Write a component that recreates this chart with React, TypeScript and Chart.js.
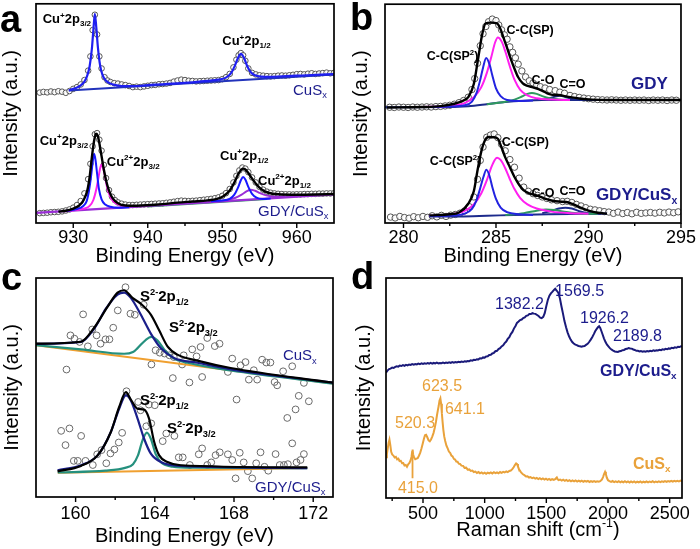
import React, { useEffect, useRef } from "react";
import { Chart, registerables } from "chart.js";
Chart.register(...registerables);

const FONT = "'Liberation Sans', Arial, Helvetica, sans-serif";
type P = [number, number];
type Part = [string, number];

// ================= Panel a : Cu 2p =================
const A_TICKS = [930, 940, 950, 960];
const A_MINOR = [935, 945, 955];
const A_CUSX_DATA: P[] = [[925.5,59.5],[926,59.8],[926.5,59.6],[927,60.0],[927.5,59.7],[928,60.1],[928.5,59.9],[929,59.4],[929.5,60.2],[930,61.2],[930.5,62.0],[931,63.2],[931.5,65.2],[932,69.5],[932.3,76],[932.6,88],[932.9,95.0],[933.2,86],[933.5,76],[933.8,70.5],[934.2,66.5],[934.6,65],[935,64.3],[935.5,63.8],[936,63.6],[936.5,63.2],[937,62.9],[937.5,62.5],[938,62.0],[938.5,62.2],[939,62.0],[939.5,62.3],[940,62.6],[940.5,62.9],[941,63.0],[941.5,63.3],[942,63.4],[942.5,63.6],[943,63.9],[943.5,64.5],[944,65.0],[944.5,65.4],[945,65.2],[945.5,64.9],[946,64.8],[946.5,64.6],[947,64.7],[947.5,64.8],[948,64.9],[948.5,65.0],[949,65.1],[949.5,65.2],[950,65.6],[950.5,66.5],[951,68.0],[951.5,71],[951.9,74.5],[952.2,76.5],[952.5,77.5],[952.8,76.5],[953.1,74],[953.5,70.5],[954,68.5],[954.5,67.8],[955,67.4],[955.5,67.2],[956,67.0],[956.5,66.9],[957,67.0],[957.5,67.2],[958,67.3],[958.5,67.2],[959,67.4],[959.5,67.6],[960,67.9],[960.5,68.0],[961,67.8],[961.5,68.1],[962,68.3],[962.5,68.0],[963,68.2],[963.5,68.4],[964,68.6],[964.5,68.3],[965,68.5]];
const A_CUSX_FIT: P[] = [[929.4,60.5],[930.0,61.2],[930.5,61.8],[931.0,62.8],[931.5,64.5],[931.9,67.5],[932.2,71.5],[932.5,79.5],[932.7,88.0],[932.9,95.4],[933.1,89.0],[933.3,80.5],[933.6,72.0],[933.9,67.8],[934.3,65.3],[934.8,63.9],[935.5,63.0],[936.5,62.5],[938,62.5],[940,62.9],[942,63.3],[944,63.7],[946,64.2],[948,64.8],[949.5,65.4],[950.5,66.3],[951.2,68.5],[951.7,71.8],[952.1,75.2],[952.5,77.2],[952.9,75.5],[953.3,72.0],[953.8,68.9],[954.4,67.4],[955.2,66.8],[956.5,66.7],[958,66.9],[960,67.2],[962,67.5],[965,67.9]];
const A_CUSX_BASE: P[] = [[929.4,60.5],[965,67.8]];
const A_GC_DATA: P[] = [[925.5,4.5],[926,4.6],[926.5,4.7],[927,4.9],[927.5,5.0],[928,5.1],[928.5,5.3],[929,5.7],[929.5,6.2],[930,7.0],[930.5,8.2],[931,10.0],[931.5,13.5],[932,20],[932.3,27],[932.6,35],[932.9,40.5],[933.2,41],[933.5,38],[933.8,33],[934.1,26.5],[934.4,20.5],[934.8,15],[935.2,12],[935.6,10.4],[936,9.4],[936.5,8.8],[937,8.4],[937.5,8.2],[938,8.2],[938.5,8.3],[939,8.4],[939.5,8.5],[940,8.6],[940.5,8.7],[941,8.8],[941.5,8.9],[942,9.0],[942.5,9.2],[943,9.4],[943.5,9.7],[944,10.0],[944.5,10.2],[945,10.1],[945.5,10.0],[946,10.1],[946.5,10.2],[947,10.4],[947.5,10.6],[948,10.8],[948.5,11.0],[949,11.3],[949.5,11.7],[950,12.4],[950.5,13.6],[951,15.5],[951.5,18.5],[951.9,21.5],[952.3,24],[952.7,25.3],[953.1,24.8],[953.5,23.2],[954,20.8],[954.5,18.5],[955,16.5],[955.5,15.2],[956,14.3],[956.5,13.8],[957,13.5],[957.5,13.3],[958,13.2],[958.5,13.1],[959,13.1],[959.5,13.0],[960,13.1],[960.5,13.1],[961,13.2],[961.5,13.2],[962,13.3],[962.5,13.3],[963,13.4],[963.5,13.4],[964,13.5],[964.5,13.5],[965,13.6]];
const A_GC_ENV: P[] = [[928.0,5.2],[929.0,5.6],[930.0,6.6],[930.8,8.0],[931.4,10.5],[931.9,15.0],[932.2,21.0],[932.5,30.0],[932.8,37.5],[933.05,40.7],[933.3,39.8],[933.55,35.5],[933.8,30.5],[934.1,24.5],[934.4,19.5],[934.8,14.8],[935.3,11.2],[936.0,9.0],[937.0,8.0],[938.5,7.9],[940,8.1],[942,8.6],[944,9.3],[946,9.8],[948,10.3],[949.3,11.0],[950.2,12.3],[951.0,14.8],[951.6,18.3],[952.1,22.0],[952.5,24.2],[952.8,24.8],[953.1,24.4],[953.5,22.8],[954.0,20.3],[954.6,17.6],[955.3,15.3],[956.2,13.8],[957.5,13.1],[960,12.9],[962.5,13.0],[965,13.2]];
const A_GC_CU1_32: P[] = [[929.0,5.5],[930.5,6.4],[931.3,7.6],[931.8,10.0],[932.1,14.5],[932.4,21.5],[932.6,27.5],[932.8,31.6],[933.0,28.5],[933.2,22.5],[933.45,15.5],[933.8,10.8],[934.3,8.4],[935,7.4],[936,7.0],[937.5,7.2]];
const A_GC_CU2_32: P[] = [[929.0,5.4],[930.5,6.0],[931.5,6.6],[932.2,7.8],[932.7,10.5],[933.1,15.5],[933.4,21.0],[933.6,24.8],[933.8,26.7],[934.0,25.2],[934.25,21.5],[934.5,17.0],[934.9,12.5],[935.4,9.8],[936.2,8.3],[937.5,7.6]];
const A_GC_CU1_12: P[] = [[948.5,9.9],[950,10.3],[951,11.0],[951.6,12.8],[952.1,16.0],[952.5,19.5],[952.8,21.0],[953.1,19.8],[953.5,16.5],[954.0,13.3],[954.6,11.6],[955.4,11.0],[956.5,11.2]];
const A_GC_CU2_12: P[] = [[947.5,9.3],[949,9.7],[950.5,10.4],[951.7,11.4],[952.6,12.9],[953.3,14.5],[953.8,15.2],[954.4,14.7],[955.1,13.6],[955.9,12.6],[957,12.0],[958.5,12.1]];
const A_GC_BASE: P[] = [[925,4.6],[965,13.1]];
const A_GC_GREEN: P[] = [[940,7.5],[956,11.0]];
const A_LABELS = [
  { x: 925.9, y: 93.2, k: "peak", t: [["Cu",0],["+",1],["2p",0],["3/2",2]] },
  { x: 950.0, y: 83.2, k: "peak", t: [["Cu",0],["+",1],["2p",0],["1/2",2]] },
  { x: 959.5, y: 60.9, k: "sample", t: [["CuS",0],["x",2]] },
  { x: 925.5, y: 37.7, k: "peak", t: [["Cu",0],["+",1],["2p",0],["3/2",2]] },
  { x: 934.5, y: 28.2, k: "peak", t: [["Cu",0],["2+",1],["2p",0],["3/2",2]] },
  { x: 949.7, y: 30.9, k: "peak", t: [["Cu",0],["+",1],["2p",0],["1/2",2]] },
  { x: 954.8, y: 19.5, k: "peak", t: [["Cu",0],["2+",1],["2p",0],["1/2",2]] },
  { x: 954.8, y: 5.5, k: "sample", t: [["GDY/CuS",0],["x",2]] },
];

// ================= Panel b : C 1s =================
const B_TICKS = [280, 285, 290, 295];
const B_MINOR = [282.5, 287.5, 292.5];
const B_GDY_DATA: P[] = [[279.25,52.9],[279.5,52.8],[279.75,53.0],[280,52.9],[280.25,52.8],[280.5,53.0],[280.75,52.9],[281,53.0],[281.25,53.1],[281.5,53.0],[281.75,53.2],[282,53.3],[282.25,53.5],[282.5,53.8],[282.75,54.3],[283,55.0],[283.25,56.0],[283.5,57.5],[283.7,61.0],[283.85,66.0],[284.0,73.0],[284.15,81.0],[284.3,86.5],[284.45,89.8],[284.6,92.0],[284.8,93.2],[285.0,92.5],[285.15,90.5],[285.3,88.3],[285.45,86.0],[285.6,84.0],[285.75,80.5],[285.9,78.0],[286.05,75.5],[286.2,72.6],[286.4,69.5],[286.6,66.8],[286.8,65.0],[287.0,64.0],[287.2,63.0],[287.4,62.3],[287.65,61.7],[287.9,61.0],[288.2,60.5],[288.45,59.8],[288.7,59.3],[289.0,58.3],[289.25,57.8],[289.5,57.4],[289.75,57.1],[290.0,56.8],[290.25,56.6],[290.5,56.4],[290.75,56.3],[291.0,56.2],[291.25,56.3],[291.5,56.2],[291.75,56.1],[292,56.2],[292.25,56.1],[292.5,56.2],[292.75,56.1],[293,56.2],[293.25,56.0],[293.5,56.2],[293.75,56.1],[294,56.2],[294.25,56.0],[294.5,56.2],[294.75,56.1]];
const B_GDY_ENV: P[] = [[279.1,52.8],[281,53.0],[282,53.4],[282.75,54.5],[283.25,56.0],[283.5,57.5],[283.8,63.5],[284.05,76.0],[284.25,86.0],[284.43,91.2],[284.7,91.6],[285.06,91.2],[285.25,88.5],[285.4,84.8],[285.6,80.0],[285.77,75.7],[286.0,70.5],[286.2,66.6],[286.45,63.8],[286.67,62.8],[287.0,62.0],[287.3,61.2],[287.6,60.0],[287.84,59.0],[288.1,58.5],[288.4,58.5],[288.7,58.0],[289.1,57.4],[289.6,56.8],[290.2,56.4],[291,56.2],[295,56.2]];
const B_GDY_SP2: P[] = [[281,53.0],[282.5,53.2],[283.3,53.8],[283.7,55.5],[283.95,59.5],[284.15,65.5],[284.3,71.0],[284.47,75.4],[284.65,72.5],[284.8,67.5],[285.0,61.5],[285.25,58.0],[285.6,56.2],[286.2,55.8],[287,56.0]];
const B_GDY_SP: P[] = [[281,53.0],[282.5,53.5],[283.3,54.8],[283.8,57.5],[284.2,62.0],[284.5,68.5],[284.75,76.0],[284.95,82.5],[285.1,84.8],[285.3,83.0],[285.5,78.5],[285.75,71.5],[286.0,65.5],[286.3,61.0],[286.7,58.3],[287.2,57.0],[288,56.4],[289,56.2]];
const B_GDY_CO: P[] = [[284.5,54.3],[285.5,55.4],[286.0,56.4],[286.4,57.8],[286.7,59.0],[286.94,59.4],[287.2,59.0],[287.5,58.0],[287.9,57.0],[288.4,56.5],[289,56.2]];
const B_GDY_CDO: P[] = [[287.2,56.2],[287.7,56.6],[288.1,57.5],[288.46,58.2],[288.8,57.5],[289.2,56.6],[289.7,56.2]];
const B_GDY_BASE: P[] = [[279,52.9],[282.5,53.0],[283.5,53.4],[284.5,54.3],[285.5,55.3],[286.5,55.9],[287.5,56.2],[295,56.2]];
const B_GC_DATA: P[] = [[279.3,2.7],[279.55,2.3],[279.8,3.0],[280.05,2.5],[280.3,2.2],[280.55,2.9],[280.8,2.4],[281.05,3.0],[281.3,2.6],[281.55,3.3],[281.8,2.8],[282.05,3.5],[282.3,3.0],[282.55,3.6],[282.8,3.9],[283.05,4.5],[283.3,5.5],[283.55,7.5],[283.8,11.9],[284.0,20.0],[284.15,28.6],[284.3,34.7],[284.5,39.2],[284.7,40.2],[284.9,40.7],[285.1,39.0],[285.3,36.0],[285.5,33.0],[285.75,29.0],[286.0,25.5],[286.25,20.5],[286.5,16.4],[286.75,14.5],[287.0,13.4],[287.25,12.6],[287.5,11.9],[287.75,11.2],[288.0,10.6],[288.3,10.2],[288.6,9.8],[288.85,9.9],[289.1,9.4],[289.35,8.5],[289.6,7.8],[289.85,7.0],[290.1,6.3],[290.35,6.0],[290.6,5.6],[290.85,5.2],[291.1,5.0],[291.35,4.4],[291.6,5.0],[291.85,4.3],[292.1,4.8],[292.35,4.2],[292.6,4.9],[292.85,4.4],[293.1,4.6],[293.35,4.8],[293.6,4.5],[293.85,4.9],[294.1,4.6],[294.35,5.0],[294.6,4.7],[294.85,5.1]];
const B_GC_ENV: P[] = [[281.4,3.5],[282.5,4.0],[283.0,4.8],[283.5,8.8],[283.8,14.5],[284.0,24.0],[284.2,32.5],[284.4,37.7],[284.6,39.3],[284.85,39.2],[285.1,38.5],[285.3,34.5],[285.5,30.0],[285.75,25.5],[286.0,21.0],[286.25,17.5],[286.5,14.9],[286.85,13.4],[287.2,12.6],[287.6,11.3],[288.0,10.3],[288.4,9.8],[288.8,9.6],[289.15,8.6],[289.5,7.3],[290.0,5.7],[290.5,4.7],[291.0,4.3]];
const B_GC_SP2: P[] = [[281.4,3.2],[282.5,3.4],[283.3,4.3],[283.7,6.5],[283.95,10.5],[284.15,16.0],[284.32,21.0],[284.48,24.3],[284.65,21.5],[284.8,16.5],[285.0,11.0],[285.25,7.0],[285.6,5.0],[286.2,4.0],[287,3.7]];
const B_GC_SP: P[] = [[281.4,3.3],[282.5,3.9],[283.3,5.5],[283.8,8.5],[284.2,13.5],[284.5,19.5],[284.75,25.5],[284.95,29.0],[285.06,29.8],[285.25,28.8],[285.5,25.0],[285.75,20.0],[286.0,15.5],[286.3,11.5],[286.7,8.5],[287.2,6.6],[288,5.2],[289,4.5],[290,4.2]];
const B_GC_CO: P[] = [[285.5,3.6],[286.5,4.5],[287.2,5.6],[287.7,6.2],[288.2,5.9],[288.8,5.0],[289.5,4.3],[290.5,4.2]];
const B_GC_CDO: P[] = [[287.5,4.5],[288.0,5.6],[288.4,6.6],[288.75,7.0],[289.1,6.6],[289.5,5.4],[290.0,4.5],[290.7,4.2]];
const B_GC_BASE: P[] = [[281.4,3.0],[283,3.0],[284.5,3.3],[286,3.7],[288,4.0],[291,4.3]];
const B_LABELS = [
  { x: 285.57, y: 88.6, k: "peak", t: [["C-C(SP)",0]] },
  { x: 281.26, y: 76.4, k: "peak", t: [["C-C(SP",0],["2",1],[")",0]] },
  { x: 286.92, y: 65.5, k: "peak", t: [["C-O",0]] },
  { x: 288.43, y: 63.6, k: "peak", t: [["C=O",0]] },
  { x: 292.3, y: 64.1, k: "sample", t: [["GDY",0]] },
  { x: 285.31, y: 37.3, k: "peak", t: [["C-C(SP)",0]] },
  { x: 281.42, y: 28.6, k: "peak", t: [["C-C(SP",0],["2",1],[")",0]] },
  { x: 286.92, y: 14.1, k: "peak", t: [["C-O",0]] },
  { x: 288.43, y: 15.0, k: "peak", t: [["C=O",0]] },
  { x: 290.4, y: 13.2, k: "sample", t: [["GDY/CuS",0],["x",2]] },
];

// ================= Panel c : S 2p =================
const C_TICKS = [160, 164, 168, 172];
const C_MINOR = [162, 166, 170];
const C_CUSX_DATA: P[] = [[162.52,95.8],[160.38,83.4],[162.13,85.2],[162.77,83.7],[162.99,83.2],[163.44,87.8],[160.84,76.5],[159.74,73.8],[159.94,72.3],[160.20,70.8],[160.62,68.8],[161.06,73.8],[161.26,70.0],[161.51,72.0],[161.71,72.0],[161.90,77.3],[159.54,58.2],[163.83,60.5],[164.04,67.0],[164.25,65.9],[164.49,65.5],[164.74,64.7],[164.96,63.9],[164.91,54.3],[165.38,60.5],[165.46,64.7],[165.75,52.3],[165.89,67.4],[166.11,64.2],[166.31,68.5],[166.39,54.8],[166.65,72.6],[167.03,68.9],[167.27,70.0],[167.69,57.1],[167.91,63.2],[168.33,60.1],[168.58,61.6],[168.75,53.6],[169.17,53.6],[169.0,57.9],[169.42,62.7],[169.63,61.4],[169.84,61.4],[170.05,52.5],[170.18,51.0],[170.48,57.4],[170.94,59.7],[171.27,46.2],[171.53,52.1],[171.78,43.7]];
const C_CUSX_ENV: P[] = [[158,70],[160.27,70.9],[160.94,77.3],[161.61,86.8],[162.12,93.3],[162.45,94.4],[162.87,90.9],[163.29,88.3],[163.8,83.3],[164.22,76.1],[164.64,68.8],[165.14,65],[166.15,62.3],[167.83,58.9],[173,52.2]];
const C_CUSX_P12: P[] = [[158,69.9],[160.27,70.8],[160.94,76.9],[161.53,86],[162.12,92.4],[162.45,93.3],[162.79,90.9],[163.29,83.3],[163.8,74.6],[164.3,68],[164.97,63.5],[166.15,61.3],[167.83,58.3],[173,52.2]];
const C_CUSX_P32: P[] = [[158,69.3],[160.27,67.4],[162.45,65.4],[162.9,66.2],[163.13,68],[163.55,71.8],[163.83,73.1],[164.13,71.5],[164.47,67.4],[164.7,65.2],[164.97,63.2],[165.65,61.3],[167.83,57.8],[173,51.8]];
const C_CUSX_BASE: P[] = [[158,69.3],[173,51.8]];
const C_GC_DATA: P[] = [[159.27,30.2],[159.69,31.3],[159.49,23.7],[160.28,27.9],[159.91,16.5],[160.11,16.5],[160.50,16.5],[160.87,14.6],[161.09,19.5],[161.31,21.4],[161.55,15.4],[161.76,19.9],[161.96,21.7],[162.18,24.9],[162.35,29.3],[162.57,48.3],[163.16,43.4],[163.28,39.6],[163.70,42.2],[164.0,41.9],[163.57,32.3],[163.82,33.6],[164.40,25.5],[164.58,29.0],[164.99,27.9],[165.21,18.1],[165.41,18.1],[165.77,14.6],[166.22,19.5],[166.39,22.2],[166.65,14.6],[166.85,15.8],[167.07,19.1],[167.28,20.4],[167.69,19.5],[167.91,16.9],[168.08,8.5],[168.13,44.5],[168.29,20.2],[168.49,15.8],[168.70,11.8],[168.92,8.5],[169.12,15.4],[169.34,20.4],[169.54,13.8],[169.73,12.0],[170.10,19.6],[170.31,14.6],[170.52,14.6],[170.72,15.0],[170.69,36.1],[170.94,24.5],[171.11,40.0],[171.16,15.8],[171.36,16.9],[171.53,19.6]];
const C_GC_ENV: P[] = [[159.09,11.7],[160.27,14.2],[161.11,19],[161.78,29.7],[162.2,41.1],[162.54,47.9],[162.79,44.5],[163.13,40.3],[163.46,39.9],[163.71,35.8],[163.97,25.1],[164.22,19],[164.64,16],[165.31,14.5],[171.7,13.5]];
const C_GC_P12: P[] = [[159.09,12.2],[160.27,14.5],[161.11,19],[161.78,29.7],[162.2,40.3],[162.54,46.4],[162.79,44.1],[163.13,35.8],[163.46,26.6],[163.8,19.8],[164.3,16],[165.31,14.2],[171.7,13.2]];
const C_GC_P32: P[] = [[159.1,11.2],[161.5,12.0],[162.5,13.3],[162.9,15.0],[163.15,19.0],[163.38,25.9],[163.6,29.4],[163.8,26.6],[164.05,19.5],[164.35,15.5],[164.9,13.9],[166,13.4],[171.7,13.2]];
const C_GC_BASE: P[] = [[159.1,11.1],[171.7,13.2]];
const C_LABELS = [
  { x: 163.25, y: 91.8, k: "peak", t: [["S",0],["2-",1],["2p",0],["1/2",2]] },
  { x: 164.72, y: 77.6, k: "peak", t: [["S",0],["2-",1],["2p",0],["3/2",2]] },
  { x: 170.47, y: 64.8, k: "sample", t: [["CuS",0],["x",2]] },
  { x: 163.25, y: 44.3, k: "peak", t: [["S",0],["2-",1],["2p",0],["1/2",2]] },
  { x: 164.62, y: 31.5, k: "peak", t: [["S",0],["2-",1],["2p",0],["3/2",2]] },
  { x: 169.06, y: 4.6, k: "sample", t: [["GDY/CuS",0],["x",2]] },
];

// ================= Panel d : Raman =================
const D_TICKS = [500, 1000, 1500, 2000, 2500];
const D_MINOR = [250, 750, 1250, 1750, 2250];
const D_GDY: P[] = [[200,57.0],[212,57.9],[225,58.6],[237,58.8],[250,59.3],[262,59.1],[275,59.6],[287,59.9],[300,59.7],[312,60.2],[325,60.0],[337,60.4],[350,60.1],[362,60.5],[375,60.3],[387,60.7],[400,60.5],[412,60.9],[425,60.6],[437,60.9],[450,60.7],[462,61.1],[475,60.8],[487,61.2],[500,60.9],[512,61.2],[525,61.0],[537,61.3],[550,61.1],[562,61.4],[575,61.1],[587,61.4],[600,61.2],[612,61.5],[625,61.2],[637,61.4],[650,61.3],[662,61.6],[675,61.3],[687,61.6],[700,61.4],[712,61.7],[725,61.4],[737,61.8],[750,61.5],[762,61.8],[775,61.6],[787,61.9],[800,61.7],[812,62.0],[825,61.8],[837,62.1],[850,62.0],[862,62.3],[875,62.2],[887,62.6],[900,62.4],[912,62.8],[925,62.7],[937,63.1],[950,63.0],[962,63.5],[975,63.4],[987,63.9],[1000,63.8],[1012,64.3],[1025,64.4],[1037,65.0],[1050,65.1],[1062,65.7],[1075,66.0],[1087,66.7],[1100,66.9],[1112,67.7],[1125,68.1],[1137,68.9],[1150,69.4],[1162,70.4],[1175,71.1],[1187,72.3],[1200,73.1],[1212,74.5],[1225,75.5],[1237,77.0],[1250,78.2],[1262,79.6],[1275,80.2],[1287,80.9],[1300,81.1],[1312,81.8],[1325,82.1],[1337,82.8],[1350,83.0],[1362,83.6],[1375,83.6],[1387,84.0],[1400,83.8],[1412,83.7],[1425,83.2],[1437,82.7],[1450,82.0],[1462,81.8],[1475,82.3],[1487,84.0],[1500,87.3],[1512,90.0],[1525,92.0],[1537,93.0],[1550,93.8],[1562,94.6],[1572,95.1],[1585,94.2],[1597,93.3],[1610,90.8],[1622,87.3],[1635,83.8],[1647,80.4],[1660,77.6],[1672,75.3],[1685,73.4],[1697,72.0],[1710,70.9],[1722,70.2],[1735,69.7],[1747,69.5],[1760,69.1],[1772,69.0],[1785,68.8],[1797,69.0],[1810,69.1],[1822,69.6],[1835,70.1],[1847,70.9],[1860,72.0],[1872,73.1],[1885,74.5],[1897,75.9],[1910,77.0],[1920,77.7],[1928,78.1],[1937,77.3],[1947,75.8],[1957,74.2],[1967,72.6],[1980,70.9],[1992,69.7],[2005,68.8],[2017,68.0],[2030,67.4],[2042,67.0],[2055,66.6],[2067,66.5],[2080,66.4],[2092,66.7],[2105,66.8],[2117,67.2],[2130,67.3],[2142,67.7],[2155,67.8],[2167,68.2],[2180,68.0],[2192,67.9],[2205,67.5],[2217,67.3],[2230,66.9],[2242,66.9],[2255,66.6],[2267,66.8],[2280,66.5],[2292,66.7],[2305,66.5],[2317,66.8],[2330,66.6],[2342,66.9],[2355,66.7],[2367,67.1],[2380,66.9],[2392,67.2],[2405,67.1],[2417,67.4],[2430,67.2],[2442,67.6],[2455,67.4],[2467,67.8],[2480,67.6],[2492,68.0],[2505,67.9],[2517,68.3],[2530,68.1],[2542,68.5],[2555,68.3],[2567,68.7],[2580,68.6],[2592,69.0],[2600,68.9]];
const D_CUSX: P[] = [[200,18.5],[207,20.0],[214,22.5],[221,25.0],[228,26.5],[235,24.0],[242,21.0],[250,19.8],[260,19.3],[270,18.4],[280,18.7],[290,17.6],[300,17.9],[310,16.8],[320,16.9],[330,15.8],[340,15.9],[350,14.8],[360,15.0],[370,14.2],[380,15.3],[390,15.9],[400,17.2],[407,18.8],[412,21.0],[416,22.0],[420,19.8],[428,18.4],[437,17.6],[447,17.9],[457,18.1],[467,19.2],[477,20.5],[487,22.4],[497,24.6],[507,26.8],[516,28.5],[525,28.7],[535,27.6],[545,26.2],[555,25.8],[565,26.6],[575,27.9],[585,29.5],[595,31.8],[605,34.6],[613,37.5],[620,39.7],[627,41.8],[634,44.3],[641,45.3],[647,42.8],[653,38.5],[659,34.5],[665,31.0],[672,28.0],[680,25.9],[690,23.8],[700,22.6],[710,21.1],[720,20.5],[730,19.3],[740,18.9],[750,17.8],[760,17.5],[770,16.6],[780,16.5],[790,15.6],[800,15.5],[812,14.7],[825,14.6],[837,13.7],[850,13.8],[862,12.9],[875,13.0],[887,12.3],[900,12.5],[912,11.8],[925,12.0],[937,11.4],[950,11.8],[962,11.2],[975,11.6],[987,11.1],[1000,11.5],[1012,11.0],[1025,11.5],[1037,11.2],[1050,11.6],[1062,11.1],[1075,11.7],[1087,11.3],[1100,11.6],[1112,11.2],[1125,11.8],[1137,11.4],[1150,11.9],[1162,11.6],[1175,12.1],[1187,11.8],[1200,12.3],[1212,12.5],[1224,13.1],[1235,14.0],[1245,15.0],[1255,15.7],[1263,15.4],[1270,14.3],[1278,13.2],[1287,12.3],[1297,11.5],[1310,10.8],[1322,10.4],[1335,9.8],[1347,9.9],[1360,9.3],[1372,9.5],[1385,9.0],[1397,9.3],[1410,8.8],[1422,9.1],[1435,8.6],[1447,9.0],[1460,8.5],[1472,8.9],[1485,8.4],[1497,8.8],[1510,8.3],[1522,8.7],[1535,8.2],[1547,8.6],[1560,8.2],[1572,8.6],[1585,9.3],[1592,8.5],[1600,8.1],[1612,8.4],[1625,7.9],[1637,8.3],[1650,7.8],[1662,8.2],[1675,7.7],[1687,8.1],[1700,7.6],[1712,8.0],[1725,7.6],[1737,8.0],[1750,7.5],[1762,7.9],[1775,7.5],[1787,7.9],[1800,7.4],[1812,7.8],[1825,7.4],[1837,7.8],[1850,7.3],[1862,7.7],[1875,7.3],[1887,7.7],[1900,7.3],[1912,7.6],[1925,7.4],[1937,7.7],[1950,8.3],[1960,9.5],[1968,10.9],[1976,11.9],[1983,10.8],[1990,9.3],[2000,8.1],[2012,7.7],[2025,7.3],[2037,7.7],[2050,7.2],[2062,7.6],[2075,7.2],[2087,7.6],[2100,7.1],[2112,7.5],[2125,7.1],[2137,7.6],[2150,7.1],[2162,7.5],[2175,7.0],[2187,7.5],[2200,7.1],[2212,7.5],[2225,7.0],[2237,7.4],[2250,7.1],[2262,7.5],[2275,7.0],[2287,7.4],[2300,7.1],[2312,7.5],[2325,7.1],[2337,7.5],[2350,7.2],[2362,7.6],[2375,7.1],[2387,7.5],[2400,7.2],[2412,7.6],[2425,7.2],[2437,7.6],[2450,7.3],[2462,7.7],[2475,7.3],[2487,7.7],[2500,7.4],[2512,7.8],[2525,7.4],[2537,7.8],[2550,7.5],[2562,7.8],[2575,7.5],[2587,7.9],[2600,7.6]];
const D_MARK_415: P[] = [[415,19.5],[415,9.0]];
const D_LABELS = [
  { x: 1084, y: 88.6, k: "navy", t: [["1382.2",0]] },
  { x: 1571, y: 94.5, k: "navy", t: [["1569.5",0]] },
  { x: 1773, y: 82.3, k: "navy", t: [["1926.2",0]] },
  { x: 2041, y: 74.1, k: "navy", t: [["2189.8",0]] },
  { x: 1935, y: 58.2, k: "navyB", t: [["GDY/CuS",0],["x",2]] },
  { x: 492, y: 51.4, k: "orange", t: [["623.5",0]] },
  { x: 678, y: 40.9, k: "orange", t: [["641.1",0]] },
  { x: 273, y: 34.2, k: "orange", t: [["520.3",0]] },
  { x: 297, y: 4.9, k: "orange", t: [["415.0",0]] },
  { x: 2203, y: 15.8, k: "orangeB", t: [["CuS",0],["x",2]] },
];

// ================= helpers =================
const xy = (a: P[]) => a.map(([x, y]) => ({ x, y }));
function line(data: P[], color: string, width = 2, smooth = true) {
  return {
    data: xy(data), showLine: true, borderColor: color, backgroundColor: color,
    borderWidth: width, pointRadius: 0, pointHoverRadius: 0, fill: false,
    cubicInterpolationMode: smooth ? "monotone" : "default", tension: 0,
  };
}
function dots(data: P[], r: number, stroke: string, fill: string) {
  return {
    data: xy(data), showLine: false, pointRadius: r, pointHoverRadius: r,
    pointBorderWidth: 1, pointBorderColor: stroke, pointBackgroundColor: fill,
    borderColor: stroke, backgroundColor: fill,
  };
}

function drawRich(ctx: any, parts: Part[], x: number, y: number, size: number, weight: string, color: string, align = "left") {
  const small = size * 0.62;
  const fN = `${weight} ${size}px ${FONT}`;
  const fS = `${weight} ${small}px ${FONT}`;
  let w = 0;
  for (const [t, k] of parts) { ctx.font = k ? fS : fN; w += ctx.measureText(t).width; }
  let cx = align === "center" ? x - w / 2 : x;
  const base = y + size * 0.35;
  ctx.fillStyle = color;
  ctx.textAlign = "left";
  ctx.textBaseline = "alphabetic";
  for (const [t, k] of parts) {
    ctx.font = k ? fS : fN;
    const dy = k === 1 ? -size * 0.42 : k === 2 ? size * 0.22 : 0;
    ctx.fillText(t, cx, base + dy);
    cx += ctx.measureText(t).width;
  }
}

function decor(p: any) {
  return {
    id: "decor",
    afterDatasetsDraw(chart: any) {
      const { ctx, chartArea: ca, scales } = chart;
      const xs = scales.x, ys = scales.y;
      ctx.save();
      ctx.strokeStyle = "#000";
      ctx.lineWidth = 1.7;
      ctx.strokeRect(ca.left, ca.top, ca.right - ca.left, ca.bottom - ca.top);
      ctx.lineWidth = 1.4;
      ctx.beginPath();
      for (const v of p.ticks) { const x = xs.getPixelForValue(v); ctx.moveTo(x, ca.bottom); ctx.lineTo(x, ca.bottom + 5); }
      for (const v of p.minor) { const x = xs.getPixelForValue(v); ctx.moveTo(x, ca.bottom); ctx.lineTo(x, ca.bottom + 3); }
      ctx.stroke();
      for (const L of p.labels) {
        const st = p.styles[L.k];
        drawRich(ctx, L.t, xs.getPixelForValue(L.x), ys.getPixelForValue(L.y), st.size, st.weight, st.color);
      }
      ctx.font = `bold 38px ${FONT}`;
      ctx.fillStyle = "#000";
      ctx.textAlign = "left";
      ctx.textBaseline = "alphabetic";
      ctx.fillText(p.letter, p.letterX, p.letterY);
      if (p.xTitleParts) drawRich(ctx, p.xTitleParts, (ca.left + ca.right) / 2 + p.xTitleDx, p.xTitleY, 20, "normal", "#000", "center");
      ctx.restore();
    },
  };
}

function buildConfig(p: any) {
  return {
    type: "scatter",
    data: { datasets: p.datasets },
    options: {
      animation: false, responsive: false, devicePixelRatio: 1, events: [],
      layout: { padding: { left: 0, right: p.padRight, top: p.padTop, bottom: 0 } },
      plugins: { legend: { display: false }, tooltip: { enabled: false } },
      scales: {
        x: {
          type: "linear", position: "bottom", min: p.xMin, max: p.xMax,
          grid: { display: false, drawTicks: false }, border: { display: false },
          ticks: { font: { family: FONT, size: 18 }, color: "#000", padding: p.tickPad, maxRotation: 0, autoSkip: false, callback: (v: any) => String(v) },
          afterBuildTicks: (s: any) => { s.ticks = p.ticks.map((v: number) => ({ value: v })); },
          afterFit: (s: any) => { s.height = p.xAxisH; },
          title: { display: !!p.xTitle, text: p.xTitle || "", font: { family: FONT, size: 20 }, color: "#000", padding: { top: 0, bottom: p.titlePadB } },
        },
        y: {
          type: "linear", position: "left", min: 0, max: 100,
          grid: { display: false, drawTicks: false }, border: { display: false },
          ticks: { display: false },
          afterFit: (s: any) => { s.width = p.yAxisW; },
          title: { display: true, text: "Intensity (a.u.)", font: { family: FONT, size: 20, lineHeight: 1 }, color: "#000", padding: { top: p.yTitlePad, bottom: 0 } },
        },
      },
    },
    plugins: [decor(p)],
  };
}

const BLUE = "#1f1ff0", NAVY = "#1c1c8c", MAG = "#ff20f0", PURP = "#9a2ed6", GREEN = "#2f9a5e";
const ORANGE = "#e9a23b", TEAL = "#25907e", C_ORANGE = "#f0a030";
const GRAY = "#555555";

const PANELS: any[] = [
  {
    key: "a", left: 0, top: 0, w: 350, h: 275, xMin: 925, xMax: 965, ticks: A_TICKS, minor: A_MINOR,
    yAxisW: 36, xAxisH: 52, padRight: 16, padTop: 3, tickPad: 4, titlePadB: 7, yTitlePad: 1,
    xTitle: "Binding Energy (eV)", letter: "a", letterX: 0, letterY: 31.5, labels: A_LABELS,
    styles: { peak: { size: 13, weight: "bold", color: "#000" }, sample: { size: 15, weight: "normal", color: NAVY } },
    datasets: [
      line(A_CUSX_FIT, BLUE, 2.2),
      line(A_CUSX_BASE, "#2233bb", 2, false),
      line(A_GC_ENV, "#000", 2.4),
      line(A_GC_CU1_32, "#1818ff", 2),
      line(A_GC_CU2_32, MAG, 2),
      line(A_GC_CU1_12, "#1818ff", 2),
      line(A_GC_CU2_12, PURP, 2),
      line(A_GC_BASE, PURP, 2.2, false),
      line(A_GC_GREEN, GREEN, 2, false),
      dots(A_CUSX_DATA, 2.8, GRAY, "rgba(255,255,255,0.85)"),
      dots(A_GC_DATA, 2.8, GRAY, "rgba(255,255,255,0.85)"),
    ],
  },
  {
    key: "b", left: 350, top: 0, w: 350, h: 275, xMin: 279, xMax: 295, ticks: B_TICKS, minor: B_MINOR,
    yAxisW: 35, xAxisH: 52, padRight: 18, padTop: 3, tickPad: 4, titlePadB: 7, yTitlePad: 1,
    xTitle: "Binding Energy (eV)", letter: "b", letterX: 0, letterY: 30, labels: B_LABELS,
    styles: { peak: { size: 12.5, weight: "bold", color: "#000" }, sample: { size: 17, weight: "bold", color: NAVY } },
    datasets: [
      line(B_GDY_ENV, "#000", 2.4),
      line(B_GDY_SP2, "#2323e0", 2),
      line(B_GDY_SP, MAG, 2),
      line(B_GDY_CO, GREEN, 2),
      line(B_GDY_CDO, "#1c2a8c", 2),
      line(B_GDY_BASE, "#1c2a8c", 2),
      line(B_GC_ENV, "#000", 2.4),
      line(B_GC_SP2, "#2323e0", 2),
      line(B_GC_SP, MAG, 2),
      line(B_GC_CO, GREEN, 2),
      line(B_GC_CDO, "#1c2a8c", 2),
      line(B_GC_BASE, "#1c2a8c", 2),
      dots(B_GDY_DATA, 3.2, GRAY, "rgba(255,255,255,0.85)"),
      dots(B_GC_DATA, 3.2, GRAY, "rgba(255,255,255,0.85)"),
    ],
  },
  {
    key: "c", left: 0, top: 250, w: 350, h: 299, xMin: 158, xMax: 173, ticks: C_TICKS, minor: C_MINOR,
    yAxisW: 36, xAxisH: 52, padRight: 17, padTop: 28, tickPad: 6, titlePadB: 1, yTitlePad: 2,
    xTitle: "Binding Energy (eV)", letter: "c", letterX: 1, letterY: 40, labels: C_LABELS,
    styles: { peak: { size: 15, weight: "bold", color: "#000" }, sample: { size: 15, weight: "normal", color: NAVY } },
    datasets: [
      line(C_CUSX_ENV, "#000", 2.2),
      line(C_CUSX_P12, "#1b1f8a", 2.2),
      line(C_CUSX_P32, TEAL, 2.2),
      line(C_CUSX_BASE, C_ORANGE, 2, false),
      line(C_GC_ENV, "#000", 2.2),
      line(C_GC_P12, "#1b1f8a", 2.2),
      line(C_GC_P32, TEAL, 2.2),
      line(C_GC_BASE, C_ORANGE, 2, false),
      dots(C_CUSX_DATA, 3.4, "#6a6a6a", "rgba(255,255,255,0)"),
      dots(C_GC_DATA, 3.4, "#6a6a6a", "rgba(255,255,255,0)"),
    ],
  },
  {
    key: "d", left: 350, top: 250, w: 350, h: 299, xMin: 200, xMax: 2600, ticks: D_TICKS, minor: D_MINOR,
    yAxisW: 36, xAxisH: 51, padRight: 18, padTop: 28, tickPad: 5, titlePadB: 0, yTitlePad: 4,
    xTitle: "", xTitleParts: [["Raman shift (cm", 0], ["-1", 1], [")", 0]], xTitleDx: 4, xTitleY: 278.8,
    letter: "d", letterX: 1, letterY: 38.5, labels: D_LABELS,
    styles: {
      navy: { size: 16, weight: "normal", color: NAVY }, navyB: { size: 16, weight: "bold", color: NAVY },
      orange: { size: 16, weight: "normal", color: ORANGE }, orangeB: { size: 16, weight: "bold", color: ORANGE },
    },
    datasets: [
      line(D_GDY, "#1a1a7a", 2, false),
      line(D_CUSX, ORANGE, 2, false),
      line(D_MARK_415, ORANGE, 1.8, false),
    ],
  },
];

function Panel({ p }: { p: any }) {
  const ref = useRef<HTMLCanvasElement | null>(null);
  useEffect(() => {
    if (!ref.current) return;
    const chart = new Chart(ref.current, buildConfig(p) as any);
    return () => chart.destroy();
  }, []);
  return (
    <canvas
      ref={ref}
      width={p.w}
      height={p.h}
      style={{ position: "absolute", left: p.left, top: p.top, width: p.w, height: p.h }}
    />
  );
}

export default function App() {
  return (
    <div style={{ position: "absolute", left: 0, top: 0, width: 700, height: 549, background: "#fff", overflow: "hidden" }}>
      {PANELS.map((p) => (
        <Panel key={p.key} p={p} />
      ))}
    </div>
  );
}
